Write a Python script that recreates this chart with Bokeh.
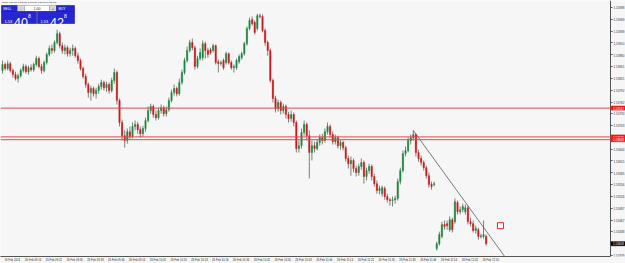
from bokeh.plotting import figure
from bokeh.models import (Range1d, FixedTicker, PrintfTickFormatter, Span, Label,
                          BoxAnnotation, ColumnDataSource)
from bokeh.embed import file_html
from bokeh.resources import INLINE

symbol = "EURAUD,M1"

opens = [
1.53841, 1.53856, 1.53846, 1.53858, 1.53841, 1.53831, 1.53821, 1.53828, 1.53841, 1.53851,
1.53838, 1.53848, 1.53843, 1.53856, 1.53871, 1.53851, 1.53841, 1.53861, 1.53881, 1.53896,
1.53891, 1.53911, 1.53933, 1.53903, 1.53891, 1.53898, 1.53883, 1.53891, 1.53896, 1.53878,
1.53866, 1.53846, 1.53826, 1.53806, 1.53786, 1.53796, 1.53783, 1.53791, 1.53801, 1.53811,
1.53798, 1.53806, 1.53791, 1.53816, 1.53836, 1.53766, 1.53711, 1.53678, 1.53666, 1.53688,
1.53676, 1.53701, 1.53706, 1.53693, 1.53683, 1.53696, 1.53716, 1.53741, 1.53751, 1.53731,
1.53723, 1.53741, 1.53748, 1.53733, 1.53743, 1.53766, 1.53786, 1.53796, 1.53783, 1.53811,
1.53836, 1.53866, 1.53891, 1.53911, 1.53898, 1.53851, 1.53871, 1.53873, 1.53908, 1.53891,
1.53893, 1.53891, 1.53903, 1.53863, 1.53858, 1.53866, 1.53861, 1.53883, 1.53861, 1.53848,
1.53848, 1.53863, 1.53873, 1.53883, 1.53908, 1.53946, 1.53968, 1.53961, 1.53946, 1.53978,
1.53976, 1.53941, 1.53911, 1.53891, 1.53816, 1.53771, 1.53746, 1.53761, 1.53741, 1.53751,
1.53731, 1.53721, 1.53731, 1.53711, 1.53646, 1.53653, 1.53686, 1.53706, 1.53678, 1.53636,
1.53653, 1.53646, 1.53661, 1.53673, 1.53666, 1.53688, 1.53701, 1.53681, 1.53663, 1.53673,
1.53653, 1.53661, 1.53648, 1.53621, 1.53608, 1.53616, 1.53596, 1.53586, 1.53601, 1.53611,
1.53576, 1.53591, 1.53601, 1.53576, 1.53558, 1.53541, 1.53533, 1.53546, 1.53526, 1.53518,
1.53516, 1.53518, 1.53521, 1.53563, 1.53591, 1.53633, 1.53641, 1.53666, 1.53673, 1.53681,
1.53636, 1.53621, 1.53611, 1.53598, 1.53578, 1.53556, 1.53556, 1.53396, 1.53408, 1.53426,
1.53456, 1.53458, 1.53443, 1.53468, 1.53463, 1.53511, 1.53488, 1.53493, 1.53488, 1.53498,
1.53463, 1.53458, 1.53441, 1.53443, 1.53426, 1.53426, 1.53426,
]

closes = [
1.53856, 1.53846, 1.53858, 1.53841, 1.53831, 1.53821, 1.53828, 1.53841, 1.53851, 1.53838,
1.53848, 1.53843, 1.53856, 1.53871, 1.53851, 1.53841, 1.53861, 1.53881, 1.53896, 1.53891,
1.53911, 1.53933, 1.53903, 1.53891, 1.53898, 1.53883, 1.53891, 1.53896, 1.53878, 1.53866,
1.53846, 1.53826, 1.53806, 1.53786, 1.53796, 1.53783, 1.53791, 1.53801, 1.53811, 1.53798,
1.53806, 1.53791, 1.53816, 1.53836, 1.53766, 1.53711, 1.53678, 1.53666, 1.53688, 1.53676,
1.53701, 1.53706, 1.53693, 1.53683, 1.53696, 1.53716, 1.53741, 1.53751, 1.53731, 1.53723,
1.53741, 1.53748, 1.53733, 1.53743, 1.53766, 1.53786, 1.53796, 1.53783, 1.53811, 1.53836,
1.53866, 1.53891, 1.53911, 1.53898, 1.53851, 1.53871, 1.53886, 1.53908, 1.53891, 1.53881,
1.53886, 1.53903, 1.53861, 1.53858, 1.53861, 1.53848, 1.53883, 1.53861, 1.53848, 1.53851,
1.53866, 1.53876, 1.53883, 1.53908, 1.53946, 1.53966, 1.53958, 1.53936, 1.53978, 1.53976,
1.53941, 1.53911, 1.53891, 1.53816, 1.53771, 1.53746, 1.53761, 1.53741, 1.53751, 1.53731,
1.53721, 1.53731, 1.53711, 1.53646, 1.53653, 1.53686, 1.53706, 1.53678, 1.53636, 1.53653,
1.53646, 1.53661, 1.53673, 1.53666, 1.53688, 1.53701, 1.53681, 1.53663, 1.53673, 1.53653,
1.53661, 1.53648, 1.53621, 1.53608, 1.53616, 1.53596, 1.53586, 1.53601, 1.53611, 1.53576,
1.53591, 1.53601, 1.53576, 1.53558, 1.53541, 1.53546, 1.53548, 1.53526, 1.53518, 1.53516,
1.53518, 1.53521, 1.53563, 1.53591, 1.53633, 1.53641, 1.53666, 1.53673, 1.53681, 1.53636,
1.53621, 1.53611, 1.53598, 1.53578, 1.53556, 1.53551, 1.53558, 1.53408, 1.53431, 1.53456,
1.53451, 1.53453, 1.53468, 1.53443, 1.53513, 1.53488, 1.53493, 1.53501, 1.53498, 1.53463,
1.53458, 1.53441, 1.53446, 1.53426, 1.53428, 1.53431, 1.53408,
]

highs = [
1.53866, 1.53861, 1.53866, 1.53863, 1.53846, 1.53838, 1.53833, 1.53846, 1.53858, 1.53856,
1.53853, 1.53856, 1.53861, 1.53878, 1.53876, 1.53858, 1.53866, 1.53886, 1.53903, 1.53906,
1.53916, 1.53943, 1.53938, 1.53911, 1.53906, 1.53903, 1.53898, 1.53906, 1.53901, 1.53886,
1.53871, 1.53851, 1.53833, 1.53811, 1.53803, 1.53801, 1.53798, 1.53808, 1.53818, 1.53816,
1.53813, 1.53811, 1.53823, 1.53846, 1.53841, 1.53771, 1.53718, 1.53691, 1.53696, 1.53701,
1.53711, 1.53716, 1.53713, 1.53701, 1.53703, 1.53723, 1.53751, 1.53758, 1.53756, 1.53741,
1.53748, 1.53756, 1.53753, 1.53751, 1.53773, 1.53793, 1.53806, 1.53801, 1.53821, 1.53843,
1.53873, 1.53901, 1.53918, 1.53921, 1.53903, 1.53878, 1.53896, 1.53916, 1.53913, 1.53898,
1.53898, 1.53908, 1.53906, 1.53868, 1.53866, 1.53871, 1.53888, 1.53886, 1.53866, 1.53856,
1.53871, 1.53881, 1.53888, 1.53913, 1.53951, 1.53973, 1.53976, 1.53966, 1.53983, 1.53983,
1.53981, 1.53946, 1.53916, 1.53896, 1.53821, 1.53778, 1.53768, 1.53766, 1.53758, 1.53756,
1.53738, 1.53741, 1.53736, 1.53716, 1.53666, 1.53696, 1.53716, 1.53711, 1.53691, 1.53666,
1.53663, 1.53668, 1.53681, 1.53683, 1.53696, 1.53711, 1.53706, 1.53688, 1.53681, 1.53678,
1.53668, 1.53666, 1.53653, 1.53628, 1.53626, 1.53621, 1.53603, 1.53608, 1.53621, 1.53616,
1.53598, 1.53608, 1.53606, 1.53583, 1.53566, 1.53553, 1.53553, 1.53551, 1.53533, 1.53523,
1.53526, 1.53528, 1.53571, 1.53598, 1.53641, 1.53651, 1.53673, 1.53681, 1.53691, 1.53683,
1.53643, 1.53628, 1.53616, 1.53603, 1.53586, 1.53563, 1.53563, 1.53413, 1.53438, 1.53463,
1.53466, 1.53466, 1.53476, 1.53473, 1.53521, 1.53516, 1.53501, 1.53508, 1.53506, 1.53503,
1.53473, 1.53466, 1.53453, 1.53448, 1.53433, 1.53466, 1.53431,
]

lows = [
1.53833, 1.53841, 1.53841, 1.53836, 1.53823, 1.53816, 1.53811, 1.53823, 1.53836, 1.53833,
1.53831, 1.53838, 1.53838, 1.53851, 1.53846, 1.53833, 1.53836, 1.53856, 1.53876, 1.53883,
1.53886, 1.53906, 1.53896, 1.53883, 1.53881, 1.53876, 1.53876, 1.53878, 1.53873, 1.53858,
1.53841, 1.53821, 1.53798, 1.53773, 1.53766, 1.53776, 1.53771, 1.53783, 1.53793, 1.53791,
1.53788, 1.53783, 1.53786, 1.53808, 1.53756, 1.53701, 1.53666, 1.53648, 1.53658, 1.53668,
1.53671, 1.53691, 1.53683, 1.53673, 1.53676, 1.53688, 1.53711, 1.53733, 1.53723, 1.53716,
1.53718, 1.53733, 1.53726, 1.53726, 1.53738, 1.53761, 1.53778, 1.53776, 1.53778, 1.53806,
1.53831, 1.53861, 1.53886, 1.53891, 1.53843, 1.53846, 1.53866, 1.53866, 1.53871, 1.53873,
1.53881, 1.53886, 1.53856, 1.53836, 1.53853, 1.53843, 1.53856, 1.53856, 1.53843, 1.53836,
1.53843, 1.53858, 1.53868, 1.53878, 1.53903, 1.53941, 1.53953, 1.53931, 1.53941, 1.53971,
1.53936, 1.53903, 1.53878, 1.53811, 1.53761, 1.53736, 1.53738, 1.53731, 1.53733, 1.53721,
1.53711, 1.53713, 1.53701, 1.53636, 1.53636, 1.53646, 1.53678, 1.53666, 1.53571, 1.53616,
1.53636, 1.53641, 1.53653, 1.53656, 1.53661, 1.53681, 1.53673, 1.53656, 1.53656, 1.53646,
1.53643, 1.53641, 1.53613, 1.53596, 1.53578, 1.53586, 1.53576, 1.53578, 1.53593, 1.53558,
1.53566, 1.53583, 1.53566, 1.53551, 1.53533, 1.53531, 1.53526, 1.53518, 1.53511, 1.53503,
1.53501, 1.53508, 1.53516, 1.53556, 1.53586, 1.53626, 1.53636, 1.53656, 1.53666, 1.53626,
1.53613, 1.53603, 1.53591, 1.53571, 1.53548, 1.53543, 1.53551, 1.53391, 1.53403, 1.53421,
1.53443, 1.53443, 1.53438, 1.53436, 1.53458, 1.53481, 1.53481, 1.53486, 1.53481, 1.53456,
1.53451, 1.53436, 1.53433, 1.53418, 1.53421, 1.53421, 1.53403,
]

bars = list(range(len(closes)))

price_ticks = [1.53379, 1.53408, 1.53438, 1.53467, 1.53497, 1.53526, 1.53556, 1.53585,
               1.53615, 1.53644, 1.53674, 1.53703, 1.53733, 1.53762, 1.53792, 1.53821,
               1.53851, 1.53880, 1.53910, 1.53939, 1.53969, 1.53998]

time_tick_bars = list(range(0, 185, 8))
time_labels = ["26 Feb 2016", "26 Feb 09:14", "26 Feb 09:22", "26 Feb 09:30", "26 Feb 09:38",
               "26 Feb 09:46", "26 Feb 09:54", "26 Feb 10:02", "26 Feb 10:10", "26 Feb 10:18",
               "26 Feb 10:26", "26 Feb 10:34", "26 Feb 10:42", "26 Feb 10:50", "26 Feb 10:58",
               "26 Feb 11:06", "26 Feb 11:14", "26 Feb 11:22", "26 Feb 11:30", "26 Feb 11:38",
               "26 Feb 11:46", "26 Feb 11:54", "26 Feb 12:02", "26 Feb 12:10"]

hline_levels = [1.53747, 1.53675, 1.53668]
trend_bars = [158, 193.7]
trend_prices = [1.53691, 1.53371]
alert_bars = [191.5]
alert_prices = [1.53453]
lot_size = "1.00"
bid_price = 1.53408
ask_price = 1.53428

FONT = "Liberation Sans"
BULL = "#168a3c"
BEAR = "#d01818"
BG = "#f6f6f6"

# frame covers the whole width; the price scale sits at bar 233.85 (x = 610 px)
X0, X1 = -0.77, 239.6
XAXIS = 233.85
Y0, Y1 = 1.53376, 1.54016
FH = 256
FW = 610

p = figure(width=625, height=263, x_range=Range1d(X0, X1), y_range=Range1d(Y0, Y1),
           y_axis_location="right", toolbar_location=None, output_backend="svg",
           min_border=0, min_border_bottom=7,
           background_fill_color=BG, border_fill_color=BG)
p.outline_line_color = None
p.xgrid.visible = False
p.ygrid.visible = False

# right price axis
ya = p.yaxis[0]
ya.fixed_location = XAXIS
ya.ticker = FixedTicker(ticks=price_ticks)
ya.formatter = PrintfTickFormatter(format="%.5f")
ya.major_label_text_font = FONT
ya.major_label_text_font_size = "3px"
ya.major_label_text_color = "#333333"
ya.major_tick_out = 2
ya.major_tick_in = 0
ya.minor_tick_out = 0
ya.minor_tick_in = 0
ya.major_label_standoff = 1
ya.axis_line_color = "#555555"
ya.major_tick_line_color = "#555555"

# bottom time axis (labels start at their bar, as in the terminal)
shift = 3.75
xa = p.xaxis[0]
xticks = [b + shift for b in time_tick_bars]
xa.ticker = FixedTicker(ticks=xticks)
xa.major_label_overrides = {t: s for t, s in zip(xticks, time_labels)}
xa.bounds = (X0, XAXIS)
xa.major_label_text_font = FONT
xa.major_label_text_font_size = "2.8px"
xa.major_label_text_color = "#333333"
xa.major_tick_out = 0
xa.major_tick_in = 0
xa.minor_tick_out = 0
xa.minor_tick_in = 0
xa.major_label_standoff = 1
xa.axis_line_color = "#555555"

# horizontal levels
for lv in hline_levels:
    p.add_layout(Span(location=lv, dimension="width", line_color="#e04848", line_width=1))

# candles
tops = [max(o, c) for o, c in zip(opens, closes)]
bots = [min(o, c) for o, c in zip(opens, closes)]
cols = [BULL if c >= o else BEAR for o, c in zip(opens, closes)]
src = ColumnDataSource(dict(bar=bars, high=highs, low=lows, top=tops, bottom=bots, color=cols))
p.segment(x0="bar", y0="high", x1="bar", y1="low", source=src, line_color="#606060", line_width=0.8)
p.vbar(x="bar", width=0.5, top="top", bottom="bottom", source=src,
       fill_color="color", line_color="color", line_width=0.5)

# trend line and alert mark
p.line(trend_bars, trend_prices, line_color="#5a5a5a", line_width=0.8)
p.scatter(alert_bars, alert_prices, marker="square", size=6, fill_color="white",
          line_color="#e02020", line_width=1)

# helpers: screen positions given top-down from the canvas top
def box(l, t, r, b, color, line=None):
    p.add_layout(BoxAnnotation(left=l, right=r, top=FH - t, bottom=FH - b,
                               left_units="screen", right_units="screen",
                               top_units="screen", bottom_units="screen",
                               fill_color=color, fill_alpha=1,
                               line_color=line or color, line_alpha=1, line_width=0.6))

def txt(x, y, s, size, color="white", align="left", baseline="middle"):
    p.add_layout(Label(x=x, y=FH - y, x_units="screen", y_units="screen", text=s,
                       text_font=FONT, text_font_size="%spx" % size, text_color=color,
                       text_align=align, text_baseline=baseline))

def py(price):
    return (Y1 - price) / (Y1 - Y0) * FH

# price tags on the price scale
for lv in hline_levels:
    yy = py(lv)
    box(FW + 0.5, yy - 2, 625, yy + 2, "#f01818")
    txt(FW + 2.5, yy, "%.5f" % lv, 3)
yy = py(bid_price)
box(FW + 0.5, yy - 2, 625, yy + 2, "#000000")
txt(FW + 2.5, yy, "%.5f" % bid_price, 3)

# header and one-click trading panel
hdr = "%s  %.5f %.5f %.5f %.5f" % (symbol, opens[-1], highs[-1], lows[-1], closes[-1])
txt(2, 2.3, hdr, 2.5, color="#222222")

BLUE = "#2626d2"
box(1, 5, 17, 11, BLUE, "#16169a")
box(17, 5, 24, 11, "#d8d8d8", "#a0a0a0")
box(24, 5, 49, 11, "#ffffff", "#a0a0a0")
box(49, 5, 56, 11, "#d8d8d8", "#a0a0a0")
box(56, 5, 74, 11, BLUE, "#16169a")
box(1, 11, 36, 23, BLUE, "#16169a")
box(37, 11, 74, 23, BLUE, "#16169a")
txt(2.5, 8.2, "SELL", 3.5)
txt(20.5, 8, "-", 4, color="#333333", align="center")
txt(36.5, 8.2, lot_size, 3.5, color="#222222", align="center")
txt(52.5, 8, "+", 4, color="#333333", align="center")
txt(58, 8.2, "BUY", 3.5)

def split(pr):
    s = "%.5f" % pr
    return s[:4], s[4:6], s[6:]

for (x_small, x_big, x_sup), pr in (((4, 13.5, 27.5), bid_price), ((40, 49.5, 63.5), ask_price)):
    a, b, c = split(pr)
    txt(x_small, 21, a, 4, baseline="alphabetic")
    txt(x_big, 22, b, 12.5, baseline="alphabetic")
    txt(x_sup, 13, c, 5, baseline="top")

open("out.html", "w").write(file_html(p, INLINE))
